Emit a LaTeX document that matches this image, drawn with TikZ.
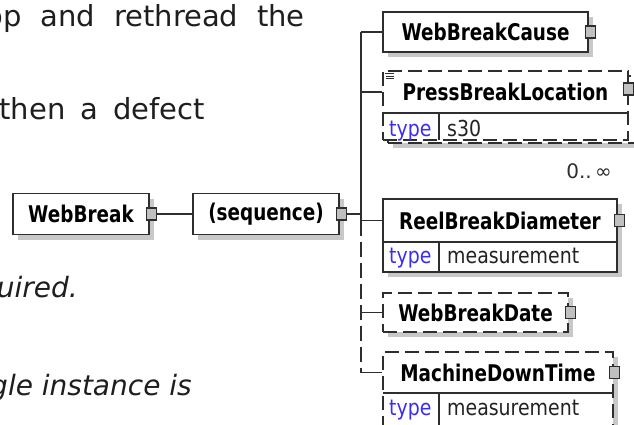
\documentclass[tikz,border=0pt]{standalone}
\usepackage{fontspec}
\setmainfont{DejaVu Sans}
\newfontfamily\tahb[FakeStretch=0.80]{DejaVu Sans}
\newfontfamily\tahr[FakeStretch=0.86]{DejaVu Sans}
\usetikzlibrary{shadows}
\definecolor{ln}{HTML}{2E2E2E}
\definecolor{shadowgray}{HTML}{C8C8C8}
\definecolor{btngray}{HTML}{C0C0C0}
\definecolor{typeblue}{HTML}{3C2DF5}
\definecolor{valgray}{HTML}{222222}
\definecolor{txt}{HTML}{1E1E1E}
\tikzset{
  elbox/.style={draw=ln, line width=1.4pt, fill=white, inner sep=0pt,
    general shadow={shadow xshift=5pt, shadow yshift=-5pt, fill=shadowgray}},
  optbox/.style={elbox, dash pattern=on 14pt off 6pt},
  optplain/.style={draw=ln, line width=1.4pt, fill=white, inner sep=0pt, dash pattern=on 14pt off 6pt},
  lbl/.style={inner sep=0pt, font=\tahb\bfseries\fontsize{23}{27}\selectfont, text=black},
  btn/.style={draw=ln, line width=1.2pt, fill=btngray, minimum width=10pt, minimum height=12pt, inner sep=0pt},
  conn/.style={draw=ln, line width=1.3pt},
  sepline/.style={draw=ln, line width=1.4pt},
  typ/.style={inner sep=0pt, anchor=base west, font=\tahr\fontsize{22}{26}\selectfont, text=typeblue},
  val/.style={inner sep=0pt, anchor=base west, font=\tahr\fontsize{22}{26}\selectfont, text=valgray},
  body/.style={inner sep=0pt, anchor=base east, font=\fontsize{29}{35}\selectfont, text=txt},
  bodyit/.style={body, font=\fontsize{28}{34}\selectfont\itshape},
}
\begin{document}
\begin{tikzpicture}[x=1pt,y=-1pt]
\useasboundingbox (0,0) rectangle (634,424);
\clip (0,0) rectangle (634,424);
\fill[white] (0,0) rectangle (634,424);

% surrounding document text
\node[body] (t1) at (305,26) {\spaceskip=18.9pt op and rethread the};
\node[body] (t2) at (205,119) {\spaceskip=15pt then a defect};
\node[bodyit] (t3) at (78,297) {uired.};
\node[bodyit] (t4) at (192,395) {gle instance is};

% root and sequence
\node[elbox, lbl, minimum width=136pt, minimum height=41pt] (wb) at (81,214) {WebBreak};
\node[btn] (wbb) at ([xshift=1.5pt]wb.east) {};
\node[elbox, lbl, minimum width=146pt, minimum height=41pt] (seq) at (266,214) {(sequence)};
\node[btn] (seqb) at ([xshift=1.5pt]seq.east) {};
\draw[conn] (wbb.east) -- (seq.west);
\coordinate (busx) at (361,0);
\coordinate (j) at (361,214);
\draw[conn] (seqb.east) -- (j);

% WebBreakCause
\node[elbox, lbl, minimum width=205pt, minimum height=40pt] (wbc) at (485.5,32) {WebBreakCause};
\node[btn] (wbcb) at ([xshift=1.5pt]wbc.east) {};

% PressBreakLocation (multiple, optional)
\node[optbox, minimum width=248pt, minimum height=67pt] (pblback) at (512,109.5) {};
\node[optplain, minimum width=245pt, minimum height=69pt] (pblbox) at (505.5,105.5) {};
\node[lbl] (pbl) at (505.5,92) {PressBreakLocation};
\draw[sepline] (383,113) -- (628,113);
\draw[sepline] (439,113) -- (439,140);
\draw[ln, line width=0.8pt] (385,73.5) -- (394,73.5) (386,76) -- (394,76) (386,78.5) -- (394,78.5);
\node[typ] (pbltyp) at (389,136) {type};
\node[val] (pblval) at (447,136) {s30};
\node[btn] (pblb) at (628.5,89) {};
\node[inner sep=0pt, anchor=base east, font=\fontsize{20}{24}\selectfont, text=ln] (occ) at (612,178) {0..\,∞};

% ReelBreakDiameter
\node[elbox, lbl, minimum width=234pt, minimum height=43pt] (rbd) at (500,220.5) {ReelBreakDiameter};
\node[elbox, minimum width=234pt, minimum height=30pt] (rbdrow) at (500,257) {};
\draw[sepline] (439,242) -- (439,272);
\node[typ] (rbdtyp) at (389,263) {type};
\node[val] (rbdval) at (447,263) {measurement};
\node[btn] (rbdb) at ([xshift=1.5pt]rbd.east) {};

% WebBreakDate
\node[optbox, lbl, minimum width=185pt, minimum height=39pt] (wbd) at (475.5,312.5) {WebBreakDate};
\node[btn] (wbdb) at ([xshift=1.5pt]wbd.east) {};

% MachineDownTime
\node[optbox, minimum width=230pt, minimum height=76pt] (mdtbox) at (498,390) {};
\node[lbl] (mdt) at (498,372.5) {MachineDownTime};
\draw[sepline] (383,393) -- (613,393);
\draw[sepline] (439,393) -- (439,428);
\node[typ] (mdttyp) at (389,415) {type};
\node[val] (mdtval) at (447,415) {measurement};
\node[btn] (mdtb) at (614.5,372.5) {};

% bus and child connectors
\draw[conn] (wbc.west -| busx) -- (rbd.west -| busx);
\draw[conn, dash pattern=on 15pt off 6pt] (rbd.west -| busx) -- (mdt -| busx);
\draw[conn] (wbc.west -| busx) -- (wbc.west);
\draw[conn] (pbl -| busx) -- (pbl -| pblbox.west);
\draw[conn] (rbd.west -| busx) -- (rbd.west);
\draw[conn] (wbd.west -| busx) -- (wbd.west);
\draw[conn] (mdt -| busx) -- (mdt -| mdtbox.west);
\end{tikzpicture}
\end{document}
